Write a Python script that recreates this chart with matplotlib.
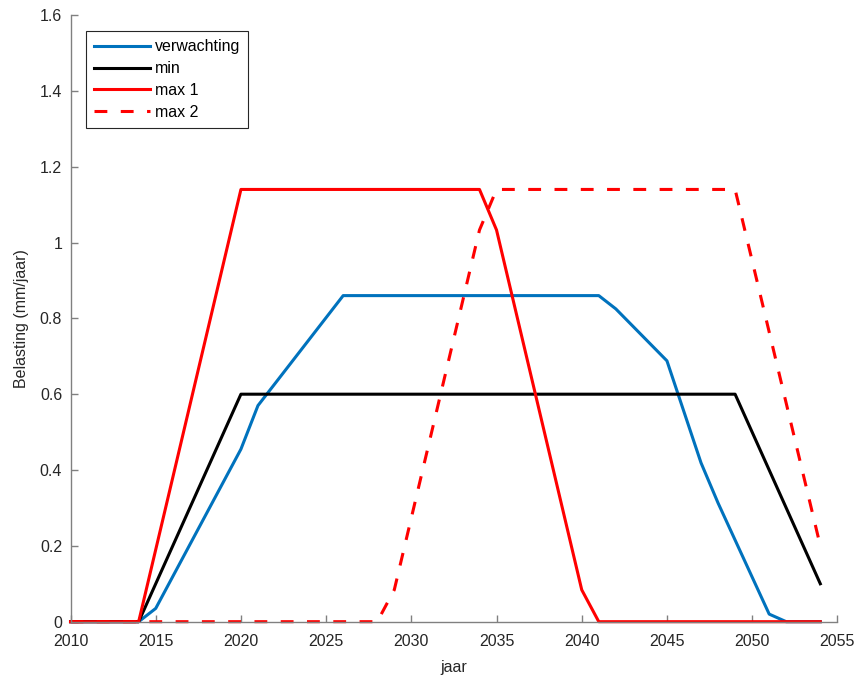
import matplotlib
matplotlib.use('Agg')
import matplotlib.pyplot as plt
from matplotlib.ticker import FormatStrFormatter

# jaar / belasting (mm/jaar), knikpunten
jaar_verw = [2010, 2014, 2015, 2020, 2021, 2026, 2041, 2042, 2045, 2047, 2048, 2051, 2052, 2054]
verwachting = [0, 0, 0.035, 0.455, 0.57, 0.86, 0.86, 0.825, 0.688, 0.419, 0.313, 0.02, 0, 0]

jaar_min = [2010, 2014, 2020, 2049, 2054]
minimum = [0, 0, 0.6, 0.6, 0.1]

jaar_max1 = [2010, 2014, 2020, 2034, 2035, 2040, 2041, 2054]
max1 = [0, 0, 1.14, 1.14, 1.033, 0.084, 0, 0]

jaar_max2 = [2010, 2028, 2029, 2034, 2035, 2049, 2054]
max2 = [0, 0, 0.084, 1.033, 1.14, 1.14, 0.2]

plt.rcParams['font.family'] = ['Liberation Sans', 'DejaVu Sans']
plt.rcParams['font.size'] = 11.5

fig = plt.figure(figsize=(8.62, 6.77), dpi=100)
ax = fig.add_axes([0.0818, 0.0817, 0.9714 - 0.0818, 0.9778 - 0.0817])

lw = 2.2
ax.plot(jaar_verw, verwachting, color='#0072BD', lw=lw, label='verwachting', clip_on=False)
ax.plot(jaar_min, minimum, color='black', lw=lw, label='min', clip_on=False)
ax.plot(jaar_max1, max1, color='#FF0000', lw=lw, label='max 1', clip_on=False)
ax.plot(jaar_max2, max2, color='#FF0000', lw=lw, ls=(0, (4.2, 4.4)), label='max 2', clip_on=False)

ax.set_xlim(2010, 2055)
ax.set_ylim(0, 1.6)
ax.set_xticks(range(2010, 2056, 5))
ax.set_yticks([0, 0.2, 0.4, 0.6, 0.8, 1.0, 1.2, 1.4, 1.6])
ax.yaxis.set_major_formatter(FormatStrFormatter('%g'))

axcol = '#808080'
for side in ['top', 'right']:
    ax.spines[side].set_visible(False)
for side in ['left', 'bottom']:
    ax.spines[side].set_color(axcol)
    ax.spines[side].set_linewidth(1.0)
ax.tick_params(direction='in', length=5, width=1, color=axcol, labelcolor='#262626', pad=6)
ax.tick_params(axis='x', pad=9)

ax.set_xlabel('jaar', color='#262626', labelpad=8)
ax.set_ylabel('Belasting (mm/jaar)', color='#262626', labelpad=8)

leg = ax.legend(loc='upper left', bbox_to_anchor=(0.02, 0.973), borderaxespad=0,
                fancybox=False, framealpha=1, edgecolor='#262626',
                handlelength=3.5, handletextpad=0.3, labelspacing=0.42,
                borderpad=0.5)
leg.get_frame().set_linewidth(0.8)

fig.savefig('out.png', dpi=100)
